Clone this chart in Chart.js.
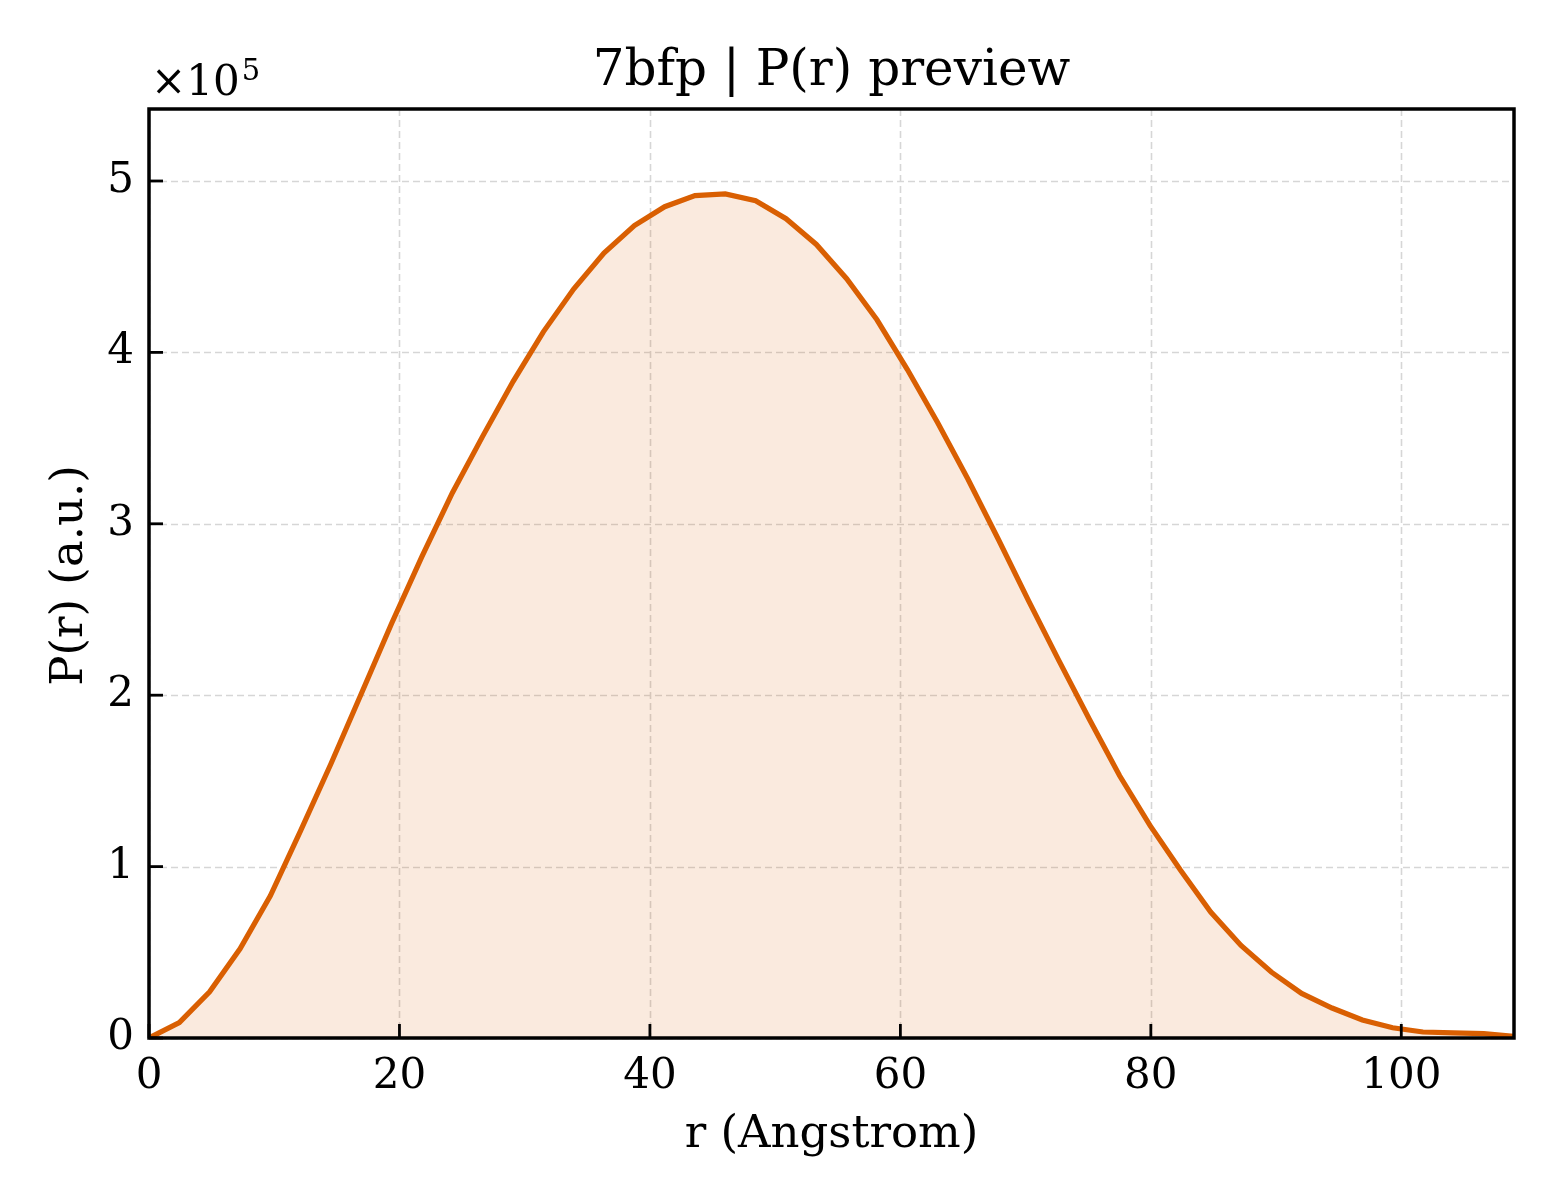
<!DOCTYPE html>
<html>
<head>
<meta charset="utf-8">
<title>7bfp | P(r) preview</title>
<script src="https://cdn.jsdelivr.net/npm/chart.js@4.4.1/dist/chart.umd.min.js"></script>
<style>
  body { margin: 0; background: #fff; }
  canvas { display: block; }
</style>
</head>
<body>
<canvas id="pr" width="1560" height="1200"></canvas>
<script>
// r grid (Angstrom)
const rValues = [
  0, 2.42, 4.84, 7.27, 9.69, 12.11, 14.53, 16.96, 19.38, 21.80,
  24.22, 26.64, 29.07, 31.49, 33.91, 36.33, 38.76, 41.18, 43.60, 46.02,
  48.44, 50.87, 53.29, 55.71, 58.13, 60.56, 62.98, 65.40, 67.82, 70.24,
  72.67, 75.09, 77.51, 79.93, 82.36, 84.78, 87.20, 89.62, 92.04, 94.47,
  96.89, 99.31, 101.73, 104.16, 106.58, 109.00
];

// P(r) in a.u.
const prValues = [
  0, 9000, 27000, 52000, 83000, 121000, 160000, 201000, 242000, 281000,
  318000, 351000, 383000, 412000, 437000, 458000, 474000, 485000, 491500, 492500,
  488500, 478000, 463000, 443000, 419000, 390000, 359000, 326000, 291000, 255000,
  220000, 186000, 153000, 124000, 98000, 73500, 54000, 38500, 26000, 17500,
  10500, 6000, 3500, 3000, 2500, 1000
];

const xTicks = [0, 20, 40, 60, 80, 100];
const yTicks = [0, 100000, 200000, 300000, 400000, 500000];

const serif = '"DejaVu Serif", "Liberation Serif", serif';
const lineColor = '#d95f02';

// matplotlib-like frame: dashed grid, inward ticks, title and offset text
const framePlugin = {
  id: 'frame',
  beforeDatasetsDraw(chart) {
    const {ctx, chartArea: a, scales: {x, y}} = chart;
    ctx.save();
    ctx.strokeStyle = '#d6d6d6';
    ctx.lineWidth = 1.6;
    ctx.setLineDash([7, 4]);
    xTicks.forEach(v => {
      const px = Math.round(x.getPixelForValue(v)) + 0.5;
      ctx.beginPath(); ctx.moveTo(px, a.top); ctx.lineTo(px, a.bottom); ctx.stroke();
    });
    yTicks.forEach(v => {
      const py = Math.round(y.getPixelForValue(v)) + 0.5;
      ctx.beginPath(); ctx.moveTo(a.left, py); ctx.lineTo(a.right, py); ctx.stroke();
    });
    ctx.restore();
  },
  afterDatasetsDraw(chart) {
    const {ctx, chartArea: a, scales: {x, y}} = chart;
    ctx.save();
    ctx.strokeStyle = '#000';
    ctx.lineWidth = 2.8;
    xTicks.forEach(v => {
      const px = x.getPixelForValue(v);
      ctx.beginPath(); ctx.moveTo(px, a.bottom); ctx.lineTo(px, a.bottom - 14); ctx.stroke();
    });
    yTicks.forEach(v => {
      const py = y.getPixelForValue(v);
      ctx.beginPath(); ctx.moveTo(a.left, py); ctx.lineTo(a.left + 14, py); ctx.stroke();
    });
    ctx.lineWidth = 3.5;
    ctx.strokeRect(a.left, a.top, a.right - a.left, a.bottom - a.top);
    ctx.restore();
  },
  afterDraw(chart) {
    const {ctx, chartArea: a} = chart;
    const cx = (a.left + a.right) / 2;
    ctx.save();
    ctx.fillStyle = '#000';
    ctx.textAlign = 'center';
    ctx.textBaseline = 'alphabetic';

    ctx.font = '50px ' + serif;
    ctx.fillText('7bfp | P(r) preview', cx, 85);

    ctx.font = '45px ' + serif;
    ctx.fillText('r (Angstrom)', cx, 1147);

    ctx.save();
    ctx.translate(82, (a.top + a.bottom) / 2 + 2);
    ctx.rotate(-Math.PI / 2);
    ctx.fillText('P(r) (a.u.)', 0, 0);
    ctx.restore();

    // offset text ×10^5
    ctx.textAlign = 'left';
    ctx.font = '42px ' + serif;
    ctx.fillText('×10', 151, 95);
    const w = ctx.measureText('×10').width;
    ctx.font = '29px ' + serif;
    ctx.fillText('5', 151 + w + 2, 80);
    ctx.restore();
  }
};

new Chart(document.getElementById('pr'), {
  type: 'line',
  data: {
    datasets: [{
      label: 'P(r)',
      data: rValues.map((r, i) => ({x: r, y: prValues[i]})),
      borderColor: lineColor,
      backgroundColor: 'rgba(217, 95, 2, 0.13)',
      borderWidth: 5.2,
      pointRadius: 0,
      tension: 0,
      fill: 'origin'
    }]
  },
  options: {
    responsive: false,
    devicePixelRatio: 1,
    animation: false,
    layout: {padding: {top: 109, right: 46, left: 0, bottom: 0}},
    plugins: {
      legend: {display: false},
      title: {display: false},
      tooltip: {enabled: false}
    },
    scales: {
      x: {
        type: 'linear',
        min: 0,
        max: 109,
        grid: {display: false, drawTicks: false},
        border: {display: false},
        afterFit(scale) { scale.height = 162; },
        afterBuildTicks(scale) { scale.ticks = xTicks.map(v => ({value: v})); },
        ticks: {
          maxRotation: 0,
          autoSkip: false,
          padding: 14,
          color: '#000',
          font: {family: serif, size: 42}
        }
      },
      y: {
        min: 0,
        max: 542000,
        grid: {display: false, drawTicks: false},
        border: {display: false},
        afterFit(scale) { scale.width = 149; },
        afterBuildTicks(scale) { scale.ticks = yTicks.map(v => ({value: v})); },
        ticks: {
          autoSkip: false,
          padding: 15,
          color: '#000',
          font: {family: serif, size: 42},
          callback: v => v / 100000
        }
      }
    }
  },
  plugins: [framePlugin]
});
</script>
</body>
</html>
